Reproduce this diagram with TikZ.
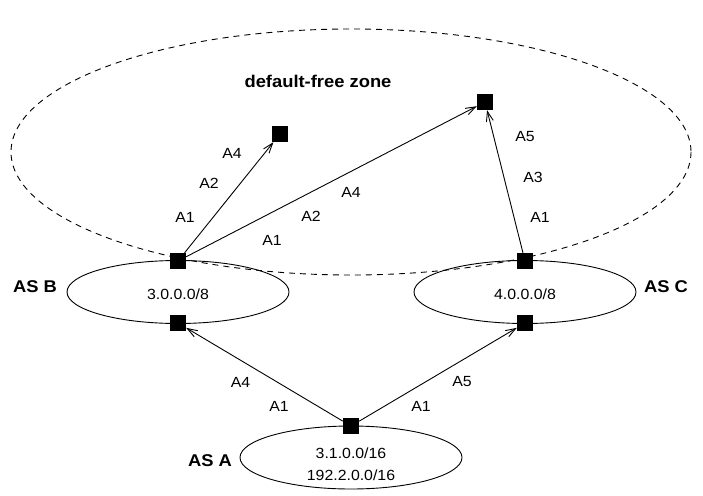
\documentclass[tikz,border=0pt]{standalone}
\usepackage{fontspec}
\setmainfont{Liberation Sans}[FakeStretch=1.08]
\usetikzlibrary{arrows.meta}
\begin{document}
\begin{tikzpicture}[x=1pt,y=-1pt,
  router/.style={fill=black,draw=none,minimum size=16pt,inner sep=0pt},
  asring/.style={draw,line width=0.9pt},
  zone/.style={draw,line width=0.9pt,dash pattern=on 6pt off 5pt},
  link/.style={line width=0.9pt,-{Straight Barb[length=10pt,width=7pt]}},
  lbl/.style={font=\fontsize{14.7}{17}\selectfont,inner sep=0pt},
  asname/.style={font=\fontsize{17}{20}\selectfont\bfseries,inner sep=0pt}]
\useasboundingbox (0,0) rectangle (703,495);

% default-free zone boundary
\draw[zone] (351,152) ellipse [x radius=340, y radius=123];
\node[asname] (dfz) at (318,81) {default-free zone};

% autonomous systems
\draw[asring] (178,292) ellipse [x radius=111, y radius=31.5];
\draw[asring] (525,292) ellipse [x radius=111, y radius=31.5];
\draw[asring] (351,457.5) ellipse [x radius=111, y radius=31.5];
\node[asname] (asb) at (35,287) {AS B};
\node[asname] (asc) at (666,287) {AS C};
\node[asname] (asa) at (210,461) {AS A};
\node[lbl] (pb) at (178,294) {3.0.0.0/8};
\node[lbl] (pc) at (525,294) {4.0.0.0/8};
\node[lbl] (pa1) at (351,453) {3.1.0.0/16};
\node[lbl] (pa2) at (351,475) {192.2.0.0/16};

% routers
\node[router] (bt) at (178,261) {};
\node[router] (bb) at (178,323) {};
\node[router] (ct) at (525,261) {};
\node[router] (cb) at (525,323) {};
\node[router] (a)  at (351,426) {};
\node[router] (d1) at (280,134) {};
\node[router] (d2) at (485,102) {};

% announcements
\draw[link] (a) -- (bb);
\draw[link] (a) -- (cb);
\draw[link] (bt) -- (d1);
\draw[link] (bt) -- (d2);
\draw[link] (ct) -- (d2);

% AS paths
\node[lbl] (l1) at (240.5,382) {A4};
\node[lbl] (l2) at (279,406) {A1};
\node[lbl] (l3) at (462,382) {A5};
\node[lbl] (l4) at (421,406) {A1};
\node[lbl] (l5) at (185,217) {A1};
\node[lbl] (l6) at (209,183) {A2};
\node[lbl] (l7) at (232,153) {A4};
\node[lbl] (l8) at (272,240) {A1};
\node[lbl] (l9) at (311,216) {A2};
\node[lbl] (l10) at (351,192) {A4};
\node[lbl] (l11) at (540,217) {A1};
\node[lbl] (l12) at (533,177) {A3};
\node[lbl] (l13) at (525,137) {A5};
\end{tikzpicture}
\end{document}
